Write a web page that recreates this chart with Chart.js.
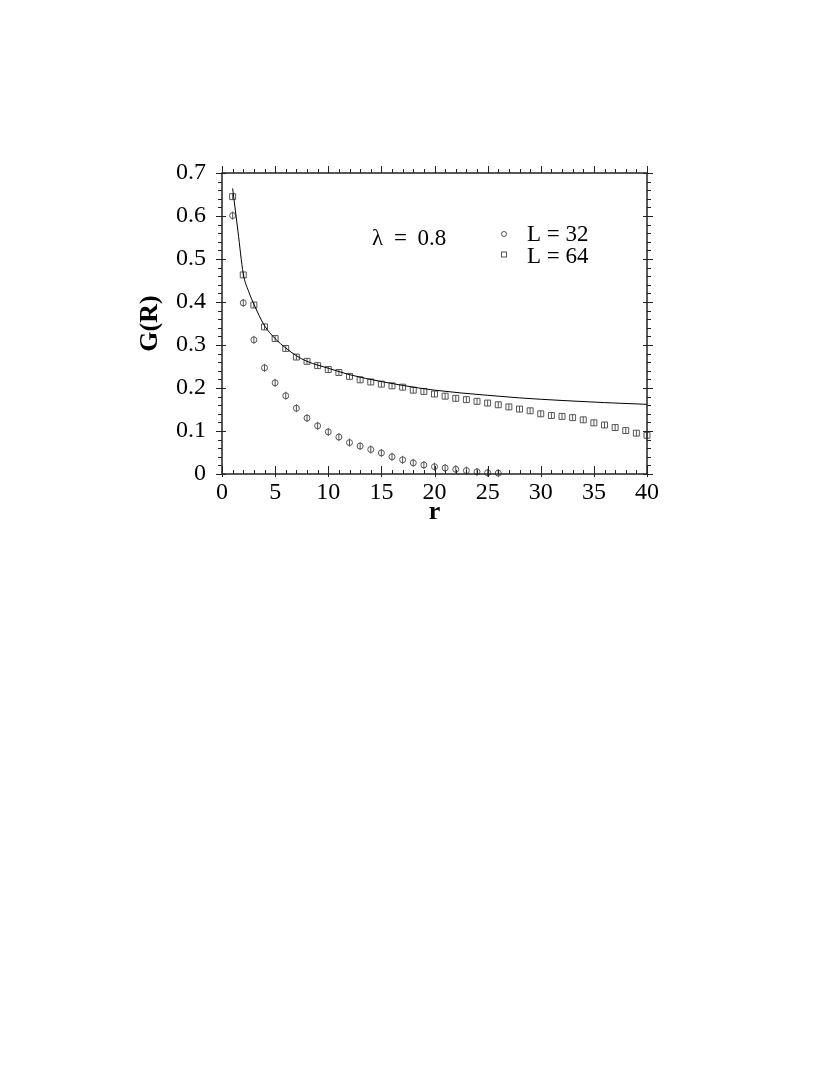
<!DOCTYPE html>
<html>
<head>
<meta charset="utf-8">
<script src="https://cdn.jsdelivr.net/npm/chart.js@4.4.1/dist/chart.umd.min.js"></script>
<style>
  html, body { margin: 0; padding: 0; background: #fff; }
  canvas { display: block; }
</style>
</head>
<body>
<canvas id="grChart" width="830" height="1075"></canvas>
<script>
// L = 32 data (circles)
const r32 = [1, 2, 3, 4, 5, 6, 7, 8, 9, 10, 11, 12, 13, 14, 15, 16, 17, 18, 19, 20, 21, 22, 23, 24, 25, 26];
const g32 = [0.601, 0.398, 0.312, 0.247, 0.212, 0.182, 0.153, 0.130, 0.112, 0.098, 0.086, 0.073, 0.065,
             0.057, 0.049, 0.040, 0.033, 0.026, 0.021, 0.017, 0.014, 0.011, 0.008, 0.005, 0.003, 0.002];

// L = 64 data (squares)
const r64 = [1, 2, 3, 4, 5, 6, 7, 8, 9, 10, 11, 12, 13, 14, 15, 16, 17, 18, 19, 20,
             21, 22, 23, 24, 25, 26, 27, 28, 29, 30, 31, 32, 33, 34, 35, 36, 37, 38, 39, 40];
const g64 = [0.645, 0.463, 0.393, 0.342, 0.315, 0.292, 0.272, 0.262, 0.252, 0.243,
             0.236, 0.227, 0.219, 0.214, 0.209, 0.205, 0.202, 0.195, 0.192, 0.186,
             0.181, 0.176, 0.173, 0.169, 0.165, 0.161, 0.156, 0.151, 0.147, 0.140,
             0.136, 0.134, 0.131, 0.126, 0.119, 0.114, 0.108, 0.101, 0.095, 0.090];

// solid curve
const fitR = [1.0, 1.5, 2, 2.5, 3, 4, 5, 6, 7, 8, 10, 12, 15, 17, 20, 25, 28, 32, 36, 40];
const fitG = [0.664, 0.565, 0.466, 0.425, 0.395, 0.345, 0.315, 0.293, 0.275, 0.262,
              0.246, 0.231, 0.215, 0.206, 0.195, 0.183, 0.177, 0.171, 0.166, 0.162];

const xTicks = [0, 5, 10, 15, 20, 25, 30, 35, 40];
const yTicks = [0, 0.1, 0.2, 0.3, 0.4, 0.5, 0.6, 0.7];

const lambdaLabel = "λ = 0.8";
const legendLabels = ["L = 32", "L = 64"];

const SERIF = '"Liberation Serif", "Times New Roman", serif';
const MARK = "#555";

Chart.defaults.font.family = SERIF;
Chart.defaults.color = "#000";

const pts = (xs, ys) => xs.map((v, i) => ({ x: v, y: ys[i] }));

// frame, ticks on four sides, and the in-plot legend
const frameTicks = {
  id: "frameTicks",
  afterDraw(chart) {
    const { ctx, chartArea: a, scales: { x, y } } = chart;
    ctx.save();
    ctx.strokeStyle = "#222";
    ctx.lineWidth = 1;
    ctx.beginPath();
    for (let v = x.min; v <= x.max; v++) {
      const px = Math.round(x.getPixelForValue(v)) + 0.5;
      const major = v % 5 === 0;
      // bottom: inward
      ctx.moveTo(px, a.bottom + (major ? 3 : 0));
      ctx.lineTo(px, a.bottom - (major ? 8 : 4));
      // top: outward
      ctx.moveTo(px, a.top);
      ctx.lineTo(px, a.top - (major ? 7 : 4));
    }
    for (let i = 0; i <= 35; i++) {
      const v = i * 0.02;
      const py = Math.round(y.getPixelForValue(v)) + 0.5;
      const major = i % 5 === 0;
      ctx.moveTo(a.left + (major ? 4 : 0), py);
      ctx.lineTo(a.left - (major ? 6 : 4), py);
      ctx.moveTo(a.right - (major ? 4 : 0), py);
      ctx.lineTo(a.right + (major ? 6 : 4), py);
    }
    ctx.stroke();

    ctx.lineWidth = 1.5;
    ctx.strokeRect(a.left, a.top, a.right - a.left, a.bottom - a.top);

    // legend
    ctx.fillStyle = "#000";
    ctx.font = "23px " + SERIF;
    ctx.textBaseline = "alphabetic";
    ctx.wordSpacing = "5px";
    ctx.fillText(lambdaLabel, 372, 245);
    ctx.wordSpacing = "0px";
    ctx.fillText(legendLabels[0], 527, 241);
    ctx.fillText(legendLabels[1], 527, 263);

    ctx.strokeStyle = MARK;
    ctx.lineWidth = 1;
    ctx.beginPath();
    ctx.arc(504, 234, 2.5, 0, Math.PI * 2);
    ctx.stroke();
    ctx.strokeRect(501.5, 252, 5, 5);
    ctx.restore();
  }
};

new Chart(document.getElementById("grChart"), {
  type: "scatter",
  data: {
    datasets: [
      {
        label: "fit",
        data: pts(fitR, fitG),
        showLine: true,
        borderColor: "#000",
        borderWidth: 1,
        pointRadius: 0,
        cubicInterpolationMode: "monotone",
        clip: false
      },
      {
        label: legendLabels[0],
        data: pts(r32, g32),
        pointStyle: "circle",
        pointRadius: 3,
        pointBorderWidth: 1,
        pointBorderColor: MARK,
        pointBackgroundColor: "rgba(0,0,0,0)",
        clip: false
      },
      {
        label: "L = 32 bars",
        data: pts(r32, g32),
        pointStyle: "line",
        rotation: 90,
        pointRadius: 4,
        pointBorderWidth: 1,
        pointBorderColor: MARK,
        clip: false
      },
      {
        label: legendLabels[1],
        data: pts(r64, g64),
        pointStyle: "rect",
        pointRadius: 4.2,
        pointBorderWidth: 1,
        pointBorderColor: MARK,
        pointBackgroundColor: "rgba(0,0,0,0)",
        clip: false
      },
      {
        label: "L = 64 bars",
        data: pts(r64, g64),
        pointStyle: "line",
        rotation: 90,
        pointRadius: 3,
        pointBorderWidth: 1,
        pointBorderColor: MARK,
        clip: false
      }
    ]
  },
  options: {
    responsive: false,
    animation: false,
    events: [],
    layout: { padding: { left: 130, top: 173, right: 183, bottom: 547 } },
    plugins: {
      legend: { display: false },
      tooltip: { enabled: false }
    },
    scales: {
      x: {
        type: "linear",
        min: 0,
        max: 40,
        afterBuildTicks: s => { s.ticks = xTicks.map(v => ({ value: v })); },
        afterFit: s => { s.height = 54; },
        grid: { display: false, drawTicks: false },
        border: { display: false },
        ticks: {
          padding: 4,
          maxRotation: 0,
          font: { size: 24 },
          color: "#000",
          callback: v => String(v)
        },
        title: {
          display: true,
          text: "r",
          font: { size: 26, weight: "bold" },
          color: "#000",
          padding: { top: 0, bottom: 0 }
        }
      },
      y: {
        type: "linear",
        min: 0,
        max: 0.7,
        afterBuildTicks: s => { s.ticks = yTicks.map(v => ({ value: v })); },
        afterFit: s => { s.width = 92; },
        grid: { display: false, drawTicks: false },
        border: { display: false },
        ticks: {
          padding: 16,
          font: { size: 24 },
          color: "#000",
          callback: v => (v === 0 ? "0" : v.toFixed(1))
        },
        title: {
          display: true,
          text: "G(R)",
          font: { size: 26, weight: "bold" },
          color: "#000",
          padding: { top: 5, bottom: 0 }
        }
      }
    }
  },
  plugins: [frameTicks]
});
</script>
</body>
</html>
